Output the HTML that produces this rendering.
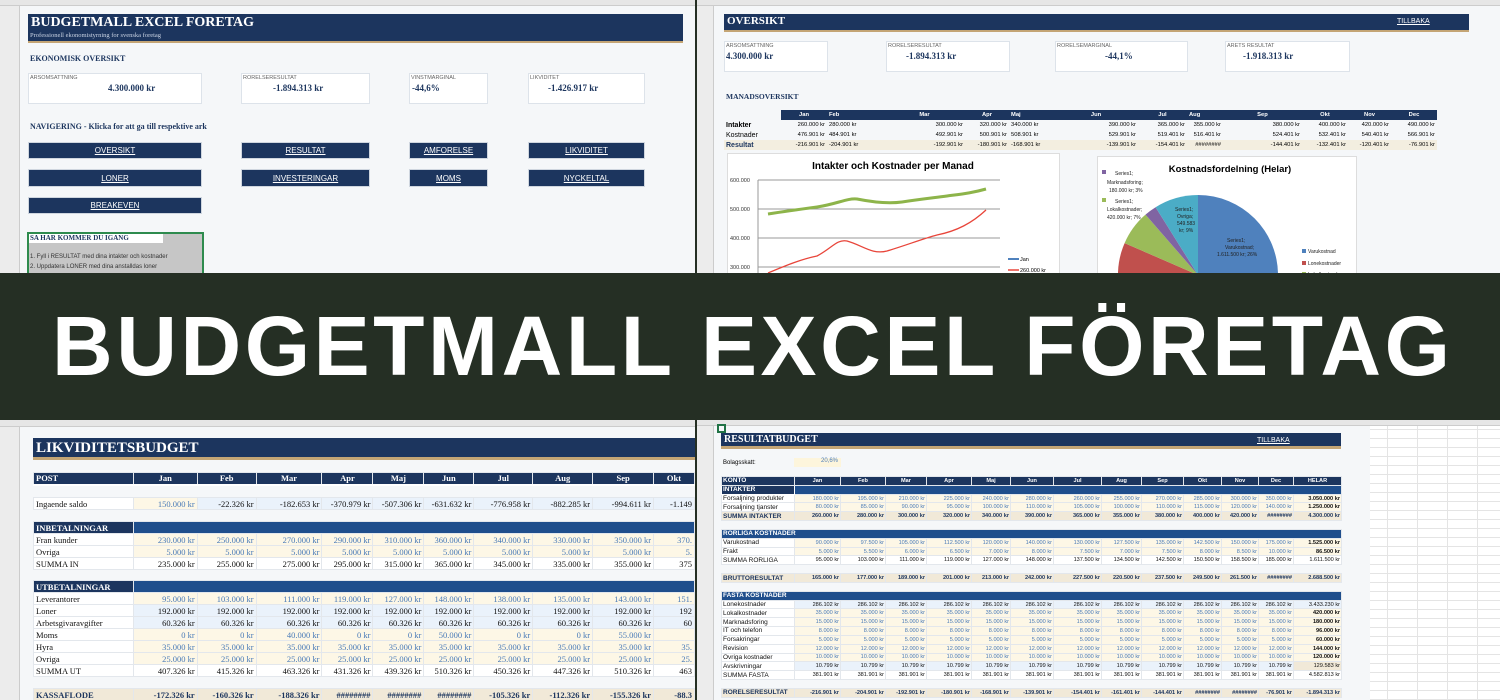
<!DOCTYPE html>
<html><head><meta charset="utf-8">
<style>
*{margin:0;padding:0;box-sizing:border-box}
body{width:1500px;height:700px;position:relative;overflow:hidden;background:#252f24;font-family:"Liberation Sans",sans-serif}
.p{position:absolute;background:#f5f7f9;overflow:hidden}
.a{position:absolute;white-space:nowrap}
.bar{position:absolute;background:#1c355e;border-bottom:2px solid #c4a575}
.ch{position:absolute;left:0;top:0;right:0;height:6px;background:#e6e6e6;border-bottom:1px solid #ccc}
.rh{position:absolute;left:0;top:6px;bottom:0;width:20px;background:#ececec;border-right:1px solid #ccc}
.box{position:absolute;background:#fff;border:1px solid #dde3ea}
.btn{position:absolute;background:#1c355e;color:#fff;font-size:8px;text-decoration:underline;display:flex;align-items:center;justify-content:center;border:1px solid #cfd6df}
.serif{font-family:"Liberation Serif",serif}
table{border-collapse:collapse;table-layout:fixed;position:absolute}
td{overflow:hidden;white-space:nowrap;padding:0 2px}
.bl td{height:12px;font-family:"Liberation Serif",serif;font-size:8.5px;text-align:right;border:1px solid #e3e7ec}
.bl td:first-child{text-align:left}
.cr{background:#fdf7e6;color:#4a7bb8}
.lb{background:#eaf2fb;color:#111}
.wh{background:#fff;color:#111}
.br td{height:8.84px;font-size:5.6px;text-align:right;border:1px solid #e3e7ec;padding:0 1px}
.br td:first-child{text-align:left;font-size:6.5px}
.nav{background:#1c355e;color:#fff;font-weight:bold}
.blu{background:#1f4e8c;color:#fff;font-weight:bold}
</style></head><body>

<!-- TOP LEFT -->
<div class="p" style="left:0;top:0;width:695px;height:273px">
 <div class="ch"></div><div class="rh"></div>
 <div class="bar" style="left:28px;top:14px;width:655px;height:29px"></div>
 <div class="a serif" style="left:31px;top:15px;color:#fff;font-weight:bold;font-size:14px">BUDGETMALL EXCEL FORETAG</div>
 <div class="a serif" style="left:30px;top:32px;color:#c9d3e3;font-size:6.5px">Professionell ekonomistyrning for svenska foretag</div>
 <div class="a serif" style="left:30px;top:54px;color:#1c355e;font-weight:bold;font-size:8px">EKONOMISK OVERSIKT</div>
 <div class="box" style="left:28px;top:73px;width:174px;height:31px"></div>
 <div class="box" style="left:241px;top:73px;width:129px;height:31px"></div>
 <div class="box" style="left:409px;top:73px;width:79px;height:31px"></div>
 <div class="box" style="left:528px;top:73px;width:117px;height:31px"></div>
 <div class="a" style="left:30px;top:75px;font-size:5.5px;color:#666">ARSOMSATTNING</div>
 <div class="a" style="left:243px;top:75px;font-size:5.5px;color:#666">RORELSERESULTAT</div>
 <div class="a" style="left:411px;top:75px;font-size:5.5px;color:#666">VINSTMARGINAL</div>
 <div class="a" style="left:530px;top:75px;font-size:5.5px;color:#666">LIKVIDITET</div>
 <div class="a serif" style="left:108px;top:83px;font-size:9px;font-weight:bold;color:#1c355e">4.300.000 kr</div>
 <div class="a serif" style="left:273px;top:83px;font-size:9px;font-weight:bold;color:#1c355e">-1.894.313 kr</div>
 <div class="a serif" style="left:412px;top:83px;font-size:9px;font-weight:bold;color:#1c355e">-44,6%</div>
 <div class="a serif" style="left:548px;top:83px;font-size:9px;font-weight:bold;color:#1c355e">-1.426.917 kr</div>
 <div class="a serif" style="left:30px;top:122px;color:#1c355e;font-weight:bold;font-size:8px">NAVIGERING - Klicka for att ga till respektive ark</div>
 <div class="btn" style="left:28px;top:142px;width:174px;height:17px">OVERSIKT</div>
 <div class="btn" style="left:241px;top:142px;width:129px;height:17px">RESULTAT</div>
 <div class="btn" style="left:409px;top:142px;width:79px;height:17px">AMFORELSE</div>
 <div class="btn" style="left:528px;top:142px;width:117px;height:17px">LIKVIDITET</div>
 <div class="btn" style="left:28px;top:169px;width:174px;height:18px">LONER</div>
 <div class="btn" style="left:241px;top:169px;width:129px;height:18px">INVESTERINGAR</div>
 <div class="btn" style="left:409px;top:169px;width:79px;height:18px">MOMS</div>
 <div class="btn" style="left:528px;top:169px;width:117px;height:18px">NYCKELTAL</div>
 <div class="btn" style="left:28px;top:197px;width:174px;height:17px">BREAKEVEN</div>
 <div class="a" style="left:27px;top:232px;width:177px;height:45px;background:#c6c6c6;border:2px solid #2e8b4e"></div>
 <div class="a" style="left:29px;top:234px;width:134px;height:9px;background:#fff"></div>
 <div class="a serif" style="left:30px;top:234px;font-size:7px;font-weight:bold;color:#1c355e">SA HAR KOMMER DU IGANG</div>
 <div class="a" style="left:30px;top:254px;font-size:6px;color:#333">1. Fyll i RESULTAT med dina intakter och kostnader</div>
 <div class="a" style="left:30px;top:264px;font-size:6px;color:#333">2. Uppdatera LONER med dina anstalldas loner</div>
</div>

<!-- TOP RIGHT -->
<div class="p" style="left:697px;top:0;width:803px;height:273px">
 <div class="ch"></div><div class="rh" style="width:17px"></div>
 <div class="bar" style="left:27px;top:14px;width:745px;height:18px"></div>
 <div class="a serif" style="left:30px;top:15px;color:#fff;font-weight:bold;font-size:11px">OVERSIKT</div>
 <div class="a" style="left:700px;top:18px;color:#fff;font-size:7px;text-decoration:underline">TILLBAKA</div>
 <div class="box" style="left:27px;top:41px;width:104px;height:31px"></div>
 <div class="box" style="left:189px;top:41px;width:124px;height:31px"></div>
 <div class="box" style="left:358px;top:41px;width:133px;height:31px"></div>
 <div class="box" style="left:528px;top:41px;width:125px;height:31px"></div>
 <div class="a" style="left:29px;top:43px;font-size:5.5px;color:#666">ARSOMSATTNING</div>
 <div class="a" style="left:191px;top:43px;font-size:5.5px;color:#666">RORELSERESULTAT</div>
 <div class="a" style="left:360px;top:43px;font-size:5.5px;color:#666">RORELSEMARGINAL</div>
 <div class="a" style="left:530px;top:43px;font-size:5.5px;color:#666">ARETS RESULTAT</div>
 <div class="a serif" style="left:29px;top:51px;font-size:9px;font-weight:bold;color:#1c355e">4.300.000 kr</div>
 <div class="a serif" style="left:209px;top:51px;font-size:9px;font-weight:bold;color:#1c355e">-1.894.313 kr</div>
 <div class="a serif" style="left:408px;top:51px;font-size:9px;font-weight:bold;color:#1c355e">-44,1%</div>
 <div class="a serif" style="left:546px;top:51px;font-size:9px;font-weight:bold;color:#1c355e">-1.918.313 kr</div>
 <div class="a serif" style="left:29px;top:92px;color:#1c355e;font-weight:bold;font-size:7.5px">MANADSOVERSIKT</div>
 <table style="left:27px;top:110px;font-size:5.8px">
  <colgroup><col style="width:57px"><col style="width:46px"><col style="width:57px"><col style="width:81px"><col style="width:44px"><col style="width:45px"><col style="width:84px"><col style="width:49px"><col style="width:36px"><col style="width:79px"><col style="width:46px"><col style="width:43px"><col style="width:46px"></colgroup>
  <tr style="height:10px"><td style="background:#f5f7f9"></td><td class="nav" style="text-align:center">Jan</td><td class="nav">Feb</td><td class="nav" style="text-align:center">Mar</td><td class="nav" style="text-align:center">Apr</td><td class="nav">Maj</td><td class="nav" style="text-align:center">Jun</td><td class="nav" style="text-align:center">Jul</td><td class="nav">Aug</td><td class="nav" style="text-align:center">Sep</td><td class="nav" style="text-align:center">Okt</td><td class="nav" style="text-align:center">Nov</td><td class="nav" style="text-align:center">Dec</td></tr>
  <tr style="height:10px;text-align:right"><td style="text-align:left;font-size:7px;font-weight:bold">Intakter</td><td>260.000 kr</td><td style="text-align:left">280.000 kr</td><td>300.000 kr</td><td>320.000 kr</td><td style="text-align:left">340.000 kr</td><td>390.000 kr</td><td>365.000 kr</td><td>355.000 kr</td><td>380.000 kr</td><td>400.000 kr</td><td>420.000 kr</td><td>490.000 kr</td></tr>
  <tr style="height:10px;text-align:right"><td style="text-align:left;font-size:7px">Kostnader</td><td>476.901 kr</td><td style="text-align:left">484.901 kr</td><td>492.901 kr</td><td>500.901 kr</td><td style="text-align:left">508.901 kr</td><td>529.901 kr</td><td>519.401 kr</td><td>516.401 kr</td><td>524.401 kr</td><td>532.401 kr</td><td>540.401 kr</td><td>566.901 kr</td></tr>
  <tr style="height:10px;text-align:right;background:#f3eee0"><td style="text-align:left;font-size:7px;font-weight:bold;color:#1c355e">Resultat</td><td>-216.901 kr</td><td style="text-align:left">-204.901 kr</td><td>-192.901 kr</td><td>-180.901 kr</td><td style="text-align:left">-168.901 kr</td><td>-139.901 kr</td><td>-154.401 kr</td><td>########</td><td>-144.401 kr</td><td>-132.401 kr</td><td>-120.401 kr</td><td>-76.901 kr</td></tr>
 </table>
 <svg class="a" style="left:30px;top:153px" width="333" height="125">
  <rect x="0.5" y="0.5" width="332" height="124" fill="#fff" stroke="#ddd"/>
  <text x="166" y="16" font-size="10" font-weight="bold" text-anchor="middle" font-family="Liberation Sans">Intakter och Kostnader per Manad</text>
  <g stroke="#999" stroke-width="1"><line x1="31" y1="27" x2="273" y2="27"/><line x1="31" y1="56" x2="273" y2="56"/><line x1="31" y1="85" x2="273" y2="85"/><line x1="31" y1="114" x2="273" y2="114"/><line x1="31" y1="27" x2="31" y2="125"/></g>
  <g font-size="5.5" fill="#333" font-family="Liberation Sans"><text x="3" y="29">600.000</text><text x="3" y="58">500.000</text><text x="3" y="87">400.000</text><text x="3" y="116">300.000</text></g>
  <path d="M41 61 C60 58 75 56 90 54 C110 51 120 45 130 46 C145 49 160 51 175 49 C195 46 205 45 220 43 C235 41 245 40 259 36" stroke="#8db44a" stroke-width="3" fill="none"/>
  <path d="M41 120 C60 112 75 106 90 103 C105 95 110 86 120 88 C135 92 145 102 160 98 C180 92 195 86 210 82 C230 78 245 70 259 57" stroke="#e8453a" stroke-width="1.3" fill="none"/>
  <line x1="281" y1="106" x2="292" y2="106" stroke="#4f81bd" stroke-width="2"/><text x="293" y="108" font-size="5.5">Jan</text>
  <line x1="281" y1="117" x2="292" y2="117" stroke="#e8453a" stroke-width="1.5"/><text x="293" y="119" font-size="5.5">260.000 kr</text>
 </svg>
 <svg class="a" style="left:400px;top:156px" width="260" height="120">
  <rect x="0.5" y="0.5" width="259" height="119" fill="#fff" stroke="#ddd"/>
  <text x="133" y="16" font-size="9.5" font-weight="bold" text-anchor="middle" font-family="Liberation Sans">Kostnadsfordelning (Helar)</text>
  <g transform="translate(101,119)">
   <path d="M0 0 L0 -80 A80 80 0 0 1 0 80 Z" fill="#4f81bd"/>
   <path d="M0 0 L0 80 A80 80 0 0 1 -73.4 -31.9 Z" fill="#c0504d"/>
   <path d="M0 0 L-73.4 -31.9 A80 80 0 0 1 -52.5 -60.4 Z" fill="#9bbb59"/>
   <path d="M0 0 L-52.5 -60.4 A80 80 0 0 1 -42.4 -67.8 Z" fill="#8064a2"/>
   <path d="M0 0 L-42.4 -67.8 A80 80 0 0 1 0 -80 Z" fill="#4bacc6"/>
  </g>
  <g font-size="5" fill="#222" font-family="Liberation Sans">
   <rect x="5" y="14" width="4" height="4" fill="#8064a2"/><text x="18" y="19">Series1;</text><text x="10" y="28">Marknadsforing;</text><text x="12" y="36">180.000 kr; 3%</text>
   <rect x="5" y="42" width="4" height="4" fill="#9bbb59"/><text x="18" y="47">Series1;</text><text x="10" y="55">Lokalkostnader;</text><text x="10" y="63">420.000 kr; 7%</text>
   <text x="78" y="55">Series1;</text><text x="80" y="62">Ovriga;</text><text x="80" y="69">549.583</text><text x="82" y="76">kr; 9%</text>
   <text x="130" y="86">Series1;</text><text x="128" y="93">Varukostnad;</text><text x="120" y="100">1.611.500 kr; 26%</text>
   <rect x="205" y="93" width="4" height="4" fill="#4f81bd"/><text x="211" y="97">Varukostnad</text>
   <rect x="205" y="105" width="4" height="4" fill="#c0504d"/><text x="211" y="109">Lonekostnader</text>
   <rect x="205" y="116" width="4" height="4" fill="#9bbb59"/><text x="211" y="120">Lokalkostnader</text>
  </g>
 </svg>
</div>

<!-- BANNER -->
<svg class="a" style="left:0;top:273px" width="1500" height="147">
 <rect width="1500" height="147" fill="#252f24"/>
 <text x="52" y="102" font-size="84" font-weight="bold" fill="#fff" font-family="Liberation Sans" textLength="1398" lengthAdjust="spacing">BUDGETMALL EXCEL FÖRETAG</text>
</svg>

<!-- BOTTOM LEFT -->
<div class="p" style="left:0;top:420px;width:695px;height:280px">
 <div class="ch" style="height:7px"></div><div class="rh" style="width:20px;top:7px"></div>
 <div class="bar" style="left:33px;top:18px;width:662px;height:22px;border-bottom-width:3px"></div>
 <div class="a serif" style="left:36px;top:20px;color:#fff;font-weight:bold;font-size:15px">LIKVIDITETSBUDGET</div>
 <table class="bl" style="left:33px;top:52px">
  <colgroup><col style="width:100px"><col style="width:64px"><col style="width:59px"><col style="width:66px"><col style="width:51px"><col style="width:51px"><col style="width:50px"><col style="width:59px"><col style="width:60px"><col style="width:61px"><col style="width:41px"></colgroup>
  <tr class="nav" style="border-bottom:2px solid #fff"><td>POST</td><td style="text-align:center">Jan</td><td style="text-align:center">Feb</td><td style="text-align:center">Mar</td><td style="text-align:center">Apr</td><td style="text-align:center">Maj</td><td style="text-align:center">Jun</td><td style="text-align:center">Jul</td><td style="text-align:center">Aug</td><td style="text-align:center">Sep</td><td style="text-align:center">Okt</td></tr>
  <tr><td colspan="11" style="border:none;height:13px"></td></tr>
  <tr><td class="wh">Ingaende saldo</td><td class="cr">150.000 kr</td><td class="lb">-22.326 kr</td><td class="lb">-182.653 kr</td><td class="lb">-370.979 kr</td><td class="lb">-507.306 kr</td><td class="lb">-631.632 kr</td><td class="lb">-776.958 kr</td><td class="lb">-882.285 kr</td><td class="lb">-994.611 kr</td><td class="lb">-1.149</td></tr>
  <tr><td colspan="11" style="border:none;height:12px"></td></tr>
  <tr><td class="nav">INBETALNINGAR</td><td class="blu" colspan="10"></td></tr>
  <tr><td class="wh">Fran kunder</td><td class="cr">230.000 kr</td><td class="cr">250.000 kr</td><td class="cr">270.000 kr</td><td class="cr">290.000 kr</td><td class="cr">310.000 kr</td><td class="cr">360.000 kr</td><td class="cr">340.000 kr</td><td class="cr">330.000 kr</td><td class="cr">350.000 kr</td><td class="cr">370.</td></tr>
  <tr><td class="wh">Ovriga</td><td class="cr">5.000 kr</td><td class="cr">5.000 kr</td><td class="cr">5.000 kr</td><td class="cr">5.000 kr</td><td class="cr">5.000 kr</td><td class="cr">5.000 kr</td><td class="cr">5.000 kr</td><td class="cr">5.000 kr</td><td class="cr">5.000 kr</td><td class="cr">5.</td></tr>
  <tr><td class="wh">SUMMA IN</td><td class="wh">235.000 kr</td><td class="wh">255.000 kr</td><td class="wh">275.000 kr</td><td class="wh">295.000 kr</td><td class="wh">315.000 kr</td><td class="wh">365.000 kr</td><td class="wh">345.000 kr</td><td class="wh">335.000 kr</td><td class="wh">355.000 kr</td><td class="wh">375</td></tr>
  <tr><td colspan="11" style="border:none;height:11px"></td></tr>
  <tr><td class="nav">UTBETALNINGAR</td><td class="blu" colspan="10"></td></tr>
  <tr><td class="wh">Leverantorer</td><td class="cr">95.000 kr</td><td class="cr">103.000 kr</td><td class="cr">111.000 kr</td><td class="cr">119.000 kr</td><td class="cr">127.000 kr</td><td class="cr">148.000 kr</td><td class="cr">138.000 kr</td><td class="cr">135.000 kr</td><td class="cr">143.000 kr</td><td class="cr">151.</td></tr>
  <tr><td class="wh">Loner</td><td class="lb">192.000 kr</td><td class="lb">192.000 kr</td><td class="lb">192.000 kr</td><td class="lb">192.000 kr</td><td class="lb">192.000 kr</td><td class="lb">192.000 kr</td><td class="lb">192.000 kr</td><td class="lb">192.000 kr</td><td class="lb">192.000 kr</td><td class="lb">192</td></tr>
  <tr><td class="wh">Arbetsgivaravgifter</td><td class="lb">60.326 kr</td><td class="lb">60.326 kr</td><td class="lb">60.326 kr</td><td class="lb">60.326 kr</td><td class="lb">60.326 kr</td><td class="lb">60.326 kr</td><td class="lb">60.326 kr</td><td class="lb">60.326 kr</td><td class="lb">60.326 kr</td><td class="lb">60</td></tr>
  <tr><td class="wh">Moms</td><td class="cr">0 kr</td><td class="cr">0 kr</td><td class="cr">40.000 kr</td><td class="cr">0 kr</td><td class="cr">0 kr</td><td class="cr">50.000 kr</td><td class="cr">0 kr</td><td class="cr">0 kr</td><td class="cr">55.000 kr</td><td class="cr"></td></tr>
  <tr><td class="wh">Hyra</td><td class="cr">35.000 kr</td><td class="cr">35.000 kr</td><td class="cr">35.000 kr</td><td class="cr">35.000 kr</td><td class="cr">35.000 kr</td><td class="cr">35.000 kr</td><td class="cr">35.000 kr</td><td class="cr">35.000 kr</td><td class="cr">35.000 kr</td><td class="cr">35.</td></tr>
  <tr><td class="wh">Ovriga</td><td class="cr">25.000 kr</td><td class="cr">25.000 kr</td><td class="cr">25.000 kr</td><td class="cr">25.000 kr</td><td class="cr">25.000 kr</td><td class="cr">25.000 kr</td><td class="cr">25.000 kr</td><td class="cr">25.000 kr</td><td class="cr">25.000 kr</td><td class="cr">25.</td></tr>
  <tr><td class="wh">SUMMA UT</td><td class="wh">407.326 kr</td><td class="wh">415.326 kr</td><td class="wh">463.326 kr</td><td class="wh">431.326 kr</td><td class="wh">439.326 kr</td><td class="wh">510.326 kr</td><td class="wh">450.326 kr</td><td class="wh">447.326 kr</td><td class="wh">510.326 kr</td><td class="wh">463</td></tr>
  <tr><td colspan="11" style="border:none;height:12px"></td></tr>
  <tr style="background:#f1e9d8;font-weight:bold;color:#1c355e"><td>KASSAFLODE</td><td>-172.326 kr</td><td>-160.326 kr</td><td>-188.326 kr</td><td>########</td><td>########</td><td>########</td><td>-105.326 kr</td><td>-112.326 kr</td><td>-155.326 kr</td><td>-88.3</td></tr>
 </table>
</div>

<!-- BOTTOM RIGHT -->
<div class="p" style="left:697px;top:420px;width:803px;height:280px;background:#fff;background-image:linear-gradient(#e4e4e4 1px,transparent 1px),linear-gradient(90deg,#e4e4e4 1px,transparent 1px);background-size:100% 9px,30px 100%">
 <div class="a" style="left:0;top:0;width:673px;height:280px;background:#f5f7f9"></div>
 <div class="ch" style="height:6px"></div><div class="rh" style="width:17px"></div>
 <div class="a" style="left:20px;top:4px;width:9px;height:9px;border:2px solid #217346"></div>
 <div class="bar" style="left:24px;top:13px;width:620px;height:16px;border-bottom-width:3px"></div>
 <div class="a serif" style="left:27px;top:14px;color:#fff;font-weight:bold;font-size:10px">RESULTATBUDGET</div>
 <div class="a" style="left:560px;top:17px;color:#fff;font-size:7px;text-decoration:underline">TILLBAKA</div>
 <div class="a" style="left:26px;top:40px;font-size:6px">Bolagsskatt:</div>
 <div class="a" style="left:97px;top:38px;width:47px;height:9px;background:#fdf5dc;font-size:6px;color:#4a7bb8;text-align:right;padding-right:3px">20,6%</div>
 <table class="br" style="left:24px;top:56px">
  <colgroup><col style="width:73px"><col style="width:46px"><col style="width:45px"><col style="width:41px"><col style="width:45px"><col style="width:39px"><col style="width:43px"><col style="width:48px"><col style="width:40px"><col style="width:42px"><col style="width:38px"><col style="width:37px"><col style="width:35px"><col style="width:48px"></colgroup>
  <tr class="nav"><td>KONTO</td><td style="text-align:center">Jan</td><td style="text-align:center">Feb</td><td style="text-align:center">Mar</td><td style="text-align:center">Apr</td><td style="text-align:center">Maj</td><td style="text-align:center">Jun</td><td style="text-align:center">Jul</td><td style="text-align:center">Aug</td><td style="text-align:center">Sep</td><td style="text-align:center">Okt</td><td style="text-align:center">Nov</td><td style="text-align:center">Dec</td><td style="text-align:center">HELAR</td></tr>
  <tr><td class="nav" style="border:1px solid #fff">INTAKTER</td><td class="blu" colspan="13"></td></tr>
  <tr class="cr"><td class="wh">Forsaljning produkter</td><td>180.000 kr</td><td>195.000 kr</td><td>210.000 kr</td><td>225.000 kr</td><td>240.000 kr</td><td>280.000 kr</td><td>260.000 kr</td><td>255.000 kr</td><td>270.000 kr</td><td>285.000 kr</td><td>300.000 kr</td><td>350.000 kr</td><td style="color:#111;font-weight:bold">3.050.000 kr</td></tr>
  <tr class="cr"><td class="wh">Forsaljning tjanster</td><td>80.000 kr</td><td>85.000 kr</td><td>90.000 kr</td><td>95.000 kr</td><td>100.000 kr</td><td>110.000 kr</td><td>105.000 kr</td><td>100.000 kr</td><td>110.000 kr</td><td>115.000 kr</td><td>120.000 kr</td><td>140.000 kr</td><td style="color:#111;font-weight:bold">1.250.000 kr</td></tr>
  <tr style="background:#f1e9d8;font-weight:bold;color:#1c355e"><td>SUMMA INTAKTER</td><td>260.000 kr</td><td>280.000 kr</td><td>300.000 kr</td><td>320.000 kr</td><td>340.000 kr</td><td>390.000 kr</td><td>365.000 kr</td><td>355.000 kr</td><td>380.000 kr</td><td>400.000 kr</td><td>420.000 kr</td><td>########</td><td>4.300.000 kr</td></tr>
  <tr><td colspan="14" style="border:none"></td></tr>
  <tr><td class="blu" colspan="14" style="text-align:left">RORLIGA KOSTNADER</td></tr>
  <tr class="cr"><td class="wh">Varukostnad</td><td>90.000 kr</td><td>97.500 kr</td><td>105.000 kr</td><td>112.500 kr</td><td>120.000 kr</td><td>140.000 kr</td><td>130.000 kr</td><td>127.500 kr</td><td>135.000 kr</td><td>142.500 kr</td><td>150.000 kr</td><td>175.000 kr</td><td style="color:#111;font-weight:bold">1.525.000 kr</td></tr>
  <tr class="cr"><td class="wh">Frakt</td><td>5.000 kr</td><td>5.500 kr</td><td>6.000 kr</td><td>6.500 kr</td><td>7.000 kr</td><td>8.000 kr</td><td>7.500 kr</td><td>7.000 kr</td><td>7.500 kr</td><td>8.000 kr</td><td>8.500 kr</td><td>10.000 kr</td><td style="color:#111;font-weight:bold">86.500 kr</td></tr>
  <tr class="wh"><td>SUMMA RORLIGA</td><td>95.000 kr</td><td>103.000 kr</td><td>111.000 kr</td><td>119.000 kr</td><td>127.000 kr</td><td>148.000 kr</td><td>137.500 kr</td><td>134.500 kr</td><td>142.500 kr</td><td>150.500 kr</td><td>158.500 kr</td><td>185.000 kr</td><td>1.611.500 kr</td></tr>
  <tr><td colspan="14" style="border:none"></td></tr>
  <tr style="background:#f1e9d8;font-weight:bold;color:#1c355e"><td>BRUTTORESULTAT</td><td>165.000 kr</td><td>177.000 kr</td><td>189.000 kr</td><td>201.000 kr</td><td>213.000 kr</td><td>242.000 kr</td><td>227.500 kr</td><td>220.500 kr</td><td>237.500 kr</td><td>249.500 kr</td><td>261.500 kr</td><td>########</td><td>2.688.500 kr</td></tr>
  <tr><td colspan="14" style="border:none"></td></tr>
  <tr><td class="blu" colspan="14" style="text-align:left">FASTA KOSTNADER</td></tr>
  <tr class="lb"><td class="wh">Lonekostnader</td><td>286.102 kr</td><td>286.102 kr</td><td>286.102 kr</td><td>286.102 kr</td><td>286.102 kr</td><td>286.102 kr</td><td>286.102 kr</td><td>286.102 kr</td><td>286.102 kr</td><td>286.102 kr</td><td>286.102 kr</td><td>286.102 kr</td><td>3.433.230 kr</td></tr>
  <tr class="cr"><td class="wh">Lokalkostnader</td><td>35.000 kr</td><td>35.000 kr</td><td>35.000 kr</td><td>35.000 kr</td><td>35.000 kr</td><td>35.000 kr</td><td>35.000 kr</td><td>35.000 kr</td><td>35.000 kr</td><td>35.000 kr</td><td>35.000 kr</td><td>35.000 kr</td><td style="color:#111;font-weight:bold">420.000 kr</td></tr>
  <tr class="cr"><td class="wh">Marknadsforing</td><td>15.000 kr</td><td>15.000 kr</td><td>15.000 kr</td><td>15.000 kr</td><td>15.000 kr</td><td>15.000 kr</td><td>15.000 kr</td><td>15.000 kr</td><td>15.000 kr</td><td>15.000 kr</td><td>15.000 kr</td><td>15.000 kr</td><td style="color:#111;font-weight:bold">180.000 kr</td></tr>
  <tr class="cr"><td class="wh">IT och telefon</td><td>8.000 kr</td><td>8.000 kr</td><td>8.000 kr</td><td>8.000 kr</td><td>8.000 kr</td><td>8.000 kr</td><td>8.000 kr</td><td>8.000 kr</td><td>8.000 kr</td><td>8.000 kr</td><td>8.000 kr</td><td>8.000 kr</td><td style="color:#111;font-weight:bold">96.000 kr</td></tr>
  <tr class="cr"><td class="wh">Forsakringar</td><td>5.000 kr</td><td>5.000 kr</td><td>5.000 kr</td><td>5.000 kr</td><td>5.000 kr</td><td>5.000 kr</td><td>5.000 kr</td><td>5.000 kr</td><td>5.000 kr</td><td>5.000 kr</td><td>5.000 kr</td><td>5.000 kr</td><td style="color:#111;font-weight:bold">60.000 kr</td></tr>
  <tr class="cr"><td class="wh">Revision</td><td>12.000 kr</td><td>12.000 kr</td><td>12.000 kr</td><td>12.000 kr</td><td>12.000 kr</td><td>12.000 kr</td><td>12.000 kr</td><td>12.000 kr</td><td>12.000 kr</td><td>12.000 kr</td><td>12.000 kr</td><td>12.000 kr</td><td style="color:#111;font-weight:bold">144.000 kr</td></tr>
  <tr class="cr"><td class="wh">Ovriga kostnader</td><td>10.000 kr</td><td>10.000 kr</td><td>10.000 kr</td><td>10.000 kr</td><td>10.000 kr</td><td>10.000 kr</td><td>10.000 kr</td><td>10.000 kr</td><td>10.000 kr</td><td>10.000 kr</td><td>10.000 kr</td><td>10.000 kr</td><td style="color:#111;font-weight:bold">120.000 kr</td></tr>
  <tr class="lb"><td class="wh">Avskrivningar</td><td>10.799 kr</td><td>10.799 kr</td><td>10.799 kr</td><td>10.799 kr</td><td>10.799 kr</td><td>10.799 kr</td><td>10.799 kr</td><td>10.799 kr</td><td>10.799 kr</td><td>10.799 kr</td><td>10.799 kr</td><td>10.799 kr</td><td style="background:#f1e9d8">129.583 kr</td></tr>
  <tr class="wh"><td>SUMMA FASTA</td><td>381.901 kr</td><td>381.901 kr</td><td>381.901 kr</td><td>381.901 kr</td><td>381.901 kr</td><td>381.901 kr</td><td>381.901 kr</td><td>381.901 kr</td><td>381.901 kr</td><td>381.901 kr</td><td>381.901 kr</td><td>381.901 kr</td><td>4.582.813 kr</td></tr>
  <tr><td colspan="14" style="border:none"></td></tr>
  <tr style="background:#f1e9d8;font-weight:bold;color:#1c355e"><td>RORELSERESULTAT</td><td>-216.901 kr</td><td>-204.901 kr</td><td>-192.901 kr</td><td>-180.901 kr</td><td>-168.901 kr</td><td>-139.901 kr</td><td>-154.401 kr</td><td>-161.401 kr</td><td>-144.401 kr</td><td>########</td><td>########</td><td>-76.901 kr</td><td>-1.894.313 kr</td></tr>
 </table>
</div>
</body></html>
